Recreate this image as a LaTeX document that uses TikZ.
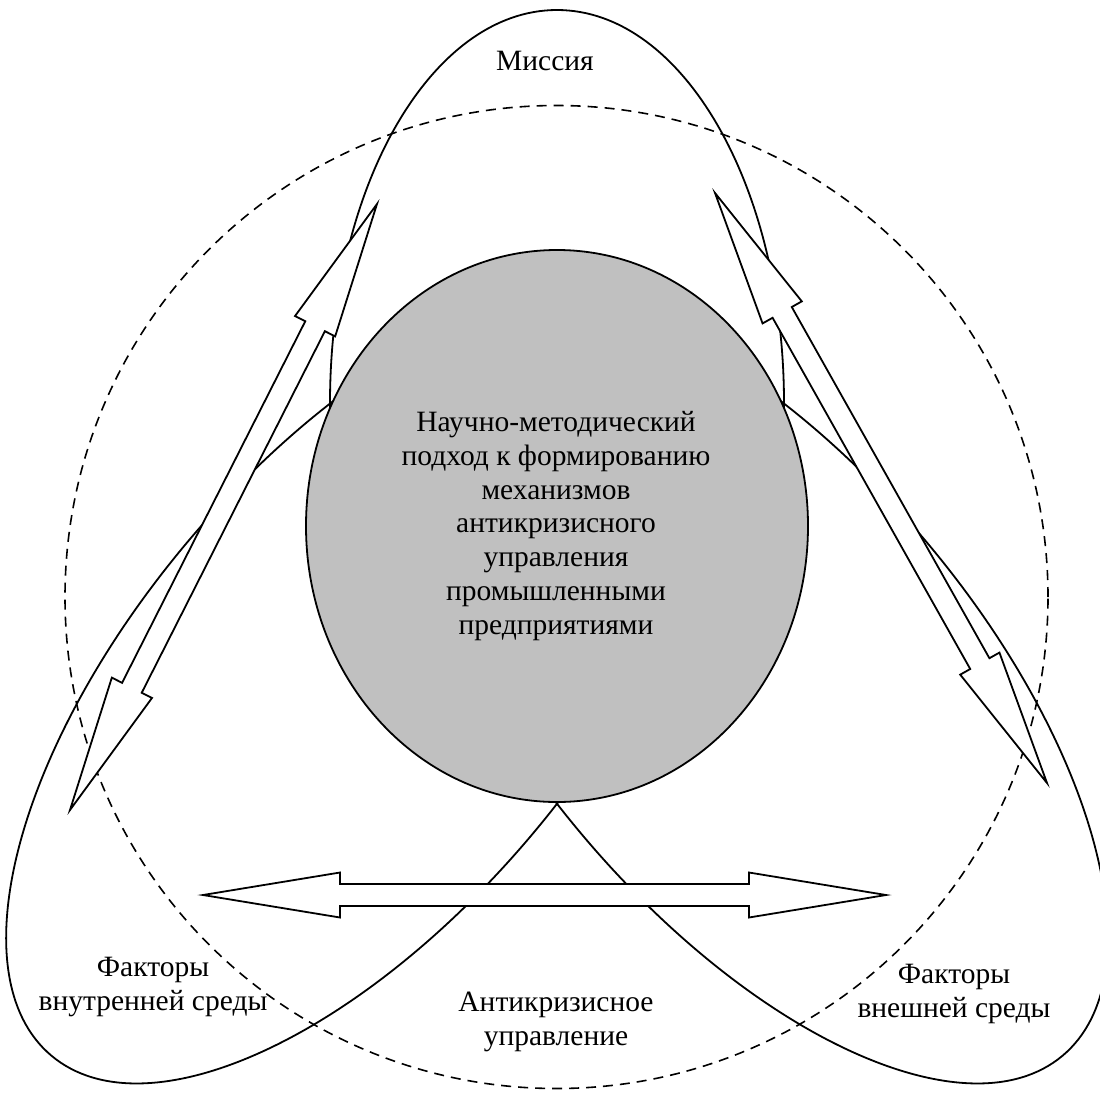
\documentclass[tikz,border=0pt]{standalone}
\usepackage{fontspec}
\setmainfont{Liberation Serif}
\usetikzlibrary{calc}

\definecolor{coregray}{RGB}{192,192,192}

% hollow double-headed block arrow between two named points
\newcommand{\dblarrow}[3]{%
  \coordinate (#1-ha) at ($(#2)!137pt!(#3)$);
  \coordinate (#1-hb) at ($(#3)!137pt!(#2)$);
  \draw[blockarrow] (#2)
    -- ($(#1-ha)!22.5pt!90:(#2)$) -- ($(#1-ha)!11pt!90:(#2)$)
    -- ($(#1-hb)!11pt!-90:(#3)$) -- ($(#1-hb)!22.5pt!-90:(#3)$)
    -- (#3)
    -- ($(#1-hb)!22.5pt!90:(#3)$) -- ($(#1-hb)!11pt!90:(#3)$)
    -- ($(#1-ha)!11pt!-90:(#2)$) -- ($(#1-ha)!22.5pt!-90:(#2)$)
    -- cycle;
}

\tikzset{
  outline/.style={draw=black, line width=1.8pt},
  dashring/.style={draw=black, line width=1.6pt, dash pattern=on 10pt off 7pt},
  core/.style={draw=black, line width=1.8pt, fill=coregray},
  blockarrow/.style={draw=black, line width=1.8pt, fill=white, line join=miter},
  label/.style={font=\fontsize{29.5}{33.7}\selectfont, align=center, inner sep=0pt}
}

\begin{document}
\begin{tikzpicture}[x=1pt, y=-1pt]
  \useasboundingbox (0,0) rectangle (1100,1093);

  % outer dashed ring
  \draw[dashring] (556.5,597) circle [radius=491.5pt];

  % three petals: mission (top), internal (left), external (right)
  \draw[outline] (557,403) ellipse [x radius=227pt, y radius=393pt];
  \draw[outline, rotate around={50:(360,688)}] (360,688) ellipse [x radius=480pt, y radius=226pt];
  \draw[outline, rotate around={-50:(754,688)}] (754,688) ellipse [x radius=480pt, y radius=226pt];

  % central core
  \draw[core] (557,526) ellipse [x radius=251pt, y radius=276pt];
  \node[label] (core) at (556,526) {Научно-методический\\подход к формированию\\механизмов\\антикризисного\\управления\\промышленными\\предприятиями};

  % block arrows
  \coordinate (l1) at (377,204);
  \coordinate (l2) at (70,810);
  \coordinate (r1) at (715,193);
  \coordinate (r2) at (1047,783);
  \coordinate (h1) at (203,895);
  \coordinate (h2) at (886,895);
  \dblarrow{la}{l1}{l2}
  \dblarrow{ra}{r1}{r2}
  \dblarrow{hz}{h1}{h2}

  % labels
  \node[label, anchor=base] (mission) at (545,70) {Миссия};
  \node[label] (internal) at (153,987) {Факторы\\внутренней среды};
  \node[label] (external) at (954,994) {Факторы\\внешней среды};
  \node[label] (crisis) at (556,1022) {Антикризисное\\управление};
\end{tikzpicture}
\end{document}
